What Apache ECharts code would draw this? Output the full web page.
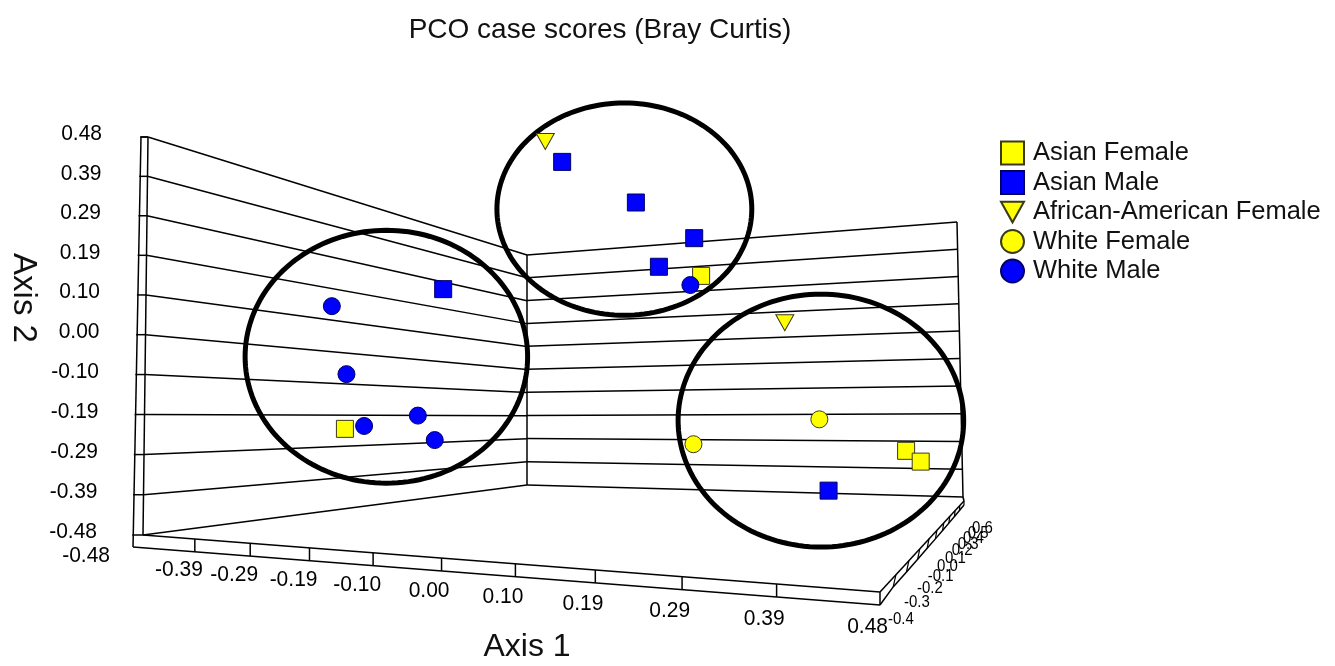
<!DOCTYPE html>
<html><head><meta charset="utf-8">
<script src="https://cdn.jsdelivr.net/npm/echarts@6/dist/echarts.min.js"></script>
<style>html,body{margin:0;padding:0;background:#fff}#c{width:1335px;height:666px}</style>
</head><body><div id="c"></div>
<script>
// ---------------- data (projected Axis 1 / Axis 2 scores) ----------------
const seriesNames = ['Asian Female', 'Asian Male', 'African-American Female', 'White Female', 'White Male'];
const asianFemale = [[-0.217, -0.224], [0.247, 0.145], [0.514, -0.277], [0.533, -0.303]];
const asianMale = [[0.066, 0.420], [0.162, 0.322], [0.238, 0.236], [0.192, 0.167], [-0.089, 0.113], [0.413, -0.373]];
const africanAmericanFemale = [[0.044, 0.469], [0.356, 0.032]];
const whiteFemale = [[0.401, -0.201], [0.237, -0.261]];
const whiteMale = [[-0.234, 0.072], [-0.215, -0.092], [-0.192, -0.217], [-0.122, -0.192], [-0.100, -0.251], [0.233, 0.123]];
// cluster ellipses: centre x, centre y, radius x, radius y
const clusterEllipses = [[-0.163, -0.050, 0.184, 0.305], [0.147, 0.306, 0.166, 0.256], [0.403, -0.204, 0.186, 0.305]];
const axis1Labels = ['-0.48', '-0.39', '-0.29', '-0.19', '-0.10', '0.00', '0.10', '0.19', '0.29', '0.39', '0.48'];
const axis2Labels = ['-0.48', '-0.39', '-0.29', '-0.19', '-0.10', '0.00', '0.10', '0.19', '0.29', '0.39', '0.48'];
const axis3Labels = ['-0.4', '-0.3', '-0.2', '-0.1', '0.0', '0.1', '0.2', '0.3', '0.4', '0.5', '0.6'];
const titleText = 'PCO case scores (Bray Curtis)';

// ---------------- layout ----------------
const W = 1335, H = 666;
const GRID = { left: 143, right: 455, top: 137, bottom: 131 };
const AXMIN = -0.48, AXMAX = 0.48;
const FONT = '"Liberation Sans", Arial, sans-serif';
// perspective box corners (pixels)
const FR = {
  A0: [143, 535], A1: [148, 137],   // front-left edge (bottom, top)
  D0: [527, 485], D1: [527, 255],   // back corner (bottom, top)
  C0: [963, 497], C1: [957, 222],   // right edge of back wall
  B: [880, 592], Cf: [964, 501],    // floor front-right and back-right
  leftOuterTop: [141, 137], leftOuterBot: [133, 547], slabBotRight: [880, 605]
};
function toData(p) {
  const gw = W - GRID.left - GRID.right, gh = H - GRID.top - GRID.bottom;
  return [AXMIN + (p[0] - GRID.left) / gw * (AXMAX - AXMIN), AXMAX - (p[1] - GRID.top) / gh * (AXMAX - AXMIN)];
}
function makeH(p0, p1, p2, p3) {
  const dx1 = p1[0] - p2[0], dx2 = p3[0] - p2[0], dx3 = p0[0] - p1[0] + p2[0] - p3[0];
  const dy1 = p1[1] - p2[1], dy2 = p3[1] - p2[1], dy3 = p0[1] - p1[1] + p2[1] - p3[1];
  const den = dx1 * dy2 - dx2 * dy1;
  const g = (dx3 * dy2 - dx2 * dy3) / den, h = (dx1 * dy3 - dx3 * dy1) / den;
  const a = p1[0] - p0[0] + g * p1[0], b = p3[0] - p0[0] + h * p3[0], c = p0[0];
  const d = p1[1] - p0[1] + g * p1[1], e = p3[1] - p0[1] + h * p3[1], f = p0[1];
  return (u, v) => { const w = g * u + h * v + 1; return toData([(a * u + b * v + c) / w, (d * u + e * v + f) / w]); };
}
const leftWall = makeH(FR.A0, FR.D0, FR.D1, FR.A1);   // u: depth, v: axis 2
const backWall = makeH(FR.D0, FR.C0, FR.C1, FR.D1);   // u: axis 1, v: axis 2
const floor = makeH(FR.A0, FR.B, FR.Cf, FR.D0);       // u: axis 1, v: depth

function renderFrame(params, api) {
  const P = d => api.coord(d);
  const kids = [];
  const stroke = '#000';
  const line = (a, b, w) => kids.push({ type: 'line', shape: { x1: a[0], y1: a[1], x2: b[0], y2: b[1] }, style: { stroke: stroke, lineWidth: w || 1.5 } });
  const text = (s, x, y, size, align, sy) => kids.push({ type: 'text', x: x, y: y, scaleY: sy || 1.08, style: { text: s, fill: '#000', fontSize: size, fontFamily: FONT, align: align, verticalAlign: 'middle' } });
  const lot = P(toData(FR.leftOuterTop)), lob = P(toData(FR.leftOuterBot)), sbr = P(toData(FR.slabBotRight));

  // walls: horizontal grid lines + axis 2 labels
  const n2 = axis2Labels.length - 1;
  for (let k = 0; k <= n2; k++) {
    const v = k / n2;
    const a = P(leftWall(0, v)), b = P(leftWall(1, v));
    line(a, b);
    line(P(backWall(0, v)), P(backWall(1, v)));
    const t = (a[1] - lot[1]) / (lob[1] - lot[1]);
    const ox = lot[0] + (lob[0] - lot[0]) * t;
    line(a, [ox - 1, a[1]]);
    text(axis2Labels[k], a[0] - 46, a[1] - 3, 21, 'right');
  }
  // vertical edges
  line(P(leftWall(0, 0)), P(leftWall(0, 1)));
  line(P(backWall(0, 0)), P(backWall(0, 1)));
  line(P(backWall(1, 0)), P(backWall(1, 1)));
  line(lot, lob);
  line(lot, P(leftWall(0, 1)));

  // floor front slab + axis 1 ticks and labels
  const f0 = P(floor(0, 0)), f1 = P(floor(1, 0));
  line(f0, f1);
  line(lob, sbr);
  line(f1, sbr);
  const n1 = axis1Labels.length - 1;
  for (let k = 0; k <= n1; k++) {
    const u = k / n1;
    const p = P(floor(u, 0));
    if (k > 0 && k < n1) {
      const t = (p[0] - lob[0]) / (sbr[0] - lob[0]);
      line(p, [p[0], lob[1] + (sbr[1] - lob[1]) * t]);
    }
    if (k === 0) text(axis1Labels[k], p[0] - 33, p[1] + 21, 21, 'right');
    else text(axis1Labels[k], p[0] + 8, p[1] + 30 + 5 * u, 21, 'right');
  }

  // depth strip + axis 3 ticks and labels
  const n3 = axis3Labels.length - 1;
  const outer = [];
  for (let k = 0; k <= n3; k++) {
    const v = k / n3;
    const p = P(floor(1, v));
    const o = [p[0] + 3 * v - 3, p[1] + 13 - 9 * v];
    outer.push(o);
    if (k > 0) line(p, o, 1.2);
    text(axis3Labels[k], p[0] + 8, p[1] + 28, 15, 'left', 1.05);
  }
  line(P(floor(1, 0)), P(floor(1, 1)));
  kids.push({ type: 'polyline', shape: { points: [sbr].concat(outer.slice(1)) }, style: { stroke: stroke, lineWidth: 1.5, fill: 'none' } });
  line(P(floor(1, 1)), P(backWall(1, 0)));
  return { type: 'group', children: kids };
}

function renderEllipse(params, api) {
  const cx = api.value(0), cy = api.value(1), rx = api.value(2), ry = api.value(3);
  const pts = [];
  for (let i = 0; i < 160; i++) {
    const t = i / 160 * Math.PI * 2;
    pts.push(api.coord([cx + rx * Math.cos(t), cy + ry * Math.sin(t)]));
  }
  return { type: 'polygon', shape: { points: pts }, style: { fill: 'none', stroke: '#000', lineWidth: 5 } };
}

const YELLOW = '#FFFF00', BLUE = '#0000FF';
const yBorder = { borderColor: '#3a3a1a', borderWidth: 1 };
const bBorder = { borderColor: '#000066', borderWidth: 1 };
const triPath = 'path://M0,0L20,0L10,18Z';

function scatter(name, data, symbol, size, color, border) {
  return {
    type: 'scatter', name: name, data: data, symbol: symbol, symbolSize: size, clip: false, z: 5,
    itemStyle: Object.assign({ color: color, opacity: 1 }, border),
    emphasis: { disabled: true }
  };
}

const chart = echarts.init(document.getElementById('c'), null, { renderer: 'canvas', width: W, height: H });
chart.setOption({
  animation: false,
  backgroundColor: '#fff',
  title: {
    text: titleText, left: 600, top: 16, textAlign: 'center', padding: 0,
    textStyle: { fontFamily: FONT, fontSize: 28, fontWeight: 'normal', color: '#111' }
  },
  legend: {
    orient: 'vertical', left: 1000, top: 140, padding: 0,
    itemWidth: 23, itemHeight: 23, itemGap: 3.5,
    textStyle: { fontFamily: FONT, fontSize: 25.5, color: '#111', lineHeight: 23, padding: [0, 0, 0, 4] },
    data: seriesNames
  },
  grid: GRID,
  xAxis: { type: 'value', min: AXMIN, max: AXMAX, show: false },
  yAxis: { type: 'value', min: AXMIN, max: AXMAX, show: false },
  graphic: [
    { type: 'text', x: 527, y: 647, style: { text: 'Axis 1', fontFamily: FONT, fontSize: 32, fill: '#111', align: 'center', verticalAlign: 'middle' } },
    { type: 'text', x: 23, y: 298, rotation: -Math.PI / 2, style: { text: 'Axis 2', fontFamily: FONT, fontSize: 33, fill: '#111', align: 'center', verticalAlign: 'middle' } }
  ],
  series: [
    { type: 'custom', name: 'frame', data: [[0, 0]], renderItem: renderFrame, silent: true, clip: false, z: 1 },
    { type: 'custom', name: 'clusters', data: clusterEllipses, encode: { x: 0, y: 1 }, renderItem: renderEllipse, silent: true, clip: false, z: 3 },
    scatter(seriesNames[0], asianFemale, 'rect', 17, YELLOW, yBorder),
    scatter(seriesNames[1], asianMale, 'rect', 17, BLUE, bBorder),
    scatter(seriesNames[2], africanAmericanFemale, triPath, [18, 16], YELLOW, yBorder),
    scatter(seriesNames[3], whiteFemale, 'circle', 17, YELLOW, yBorder),
    scatter(seriesNames[4], whiteMale, 'circle', 17, BLUE, bBorder)
  ]
});
</script>
</body></html>
